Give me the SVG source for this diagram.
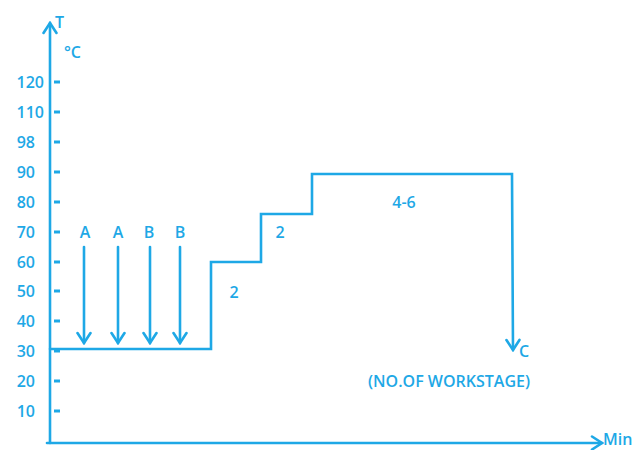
<svg xmlns="http://www.w3.org/2000/svg" width="639" height="450" viewBox="0 0 639 450">
<style>
.ln{fill:none;stroke:#1ea8e6;stroke-width:2.6;stroke-linecap:round;stroke-linejoin:miter}
.tk{stroke:#1ea8e6;stroke-width:3}
.t{font-family:"Open Sans","DejaVu Sans",sans-serif;font-size:16px;font-weight:600;fill:#1ea8e6}
.y{text-anchor:end}
.m{text-anchor:middle}
</style>
<defs>
<marker id="ah" viewBox="0 0 14 16" refX="12" refY="8" markerWidth="14" markerHeight="16" markerUnits="userSpaceOnUse" orient="auto">
<path d="M2,1.5 L12,8 L2,14.5" fill="none" stroke="#1ea8e6" stroke-width="2.6" stroke-linecap="round"/>
</marker>
</defs>
<rect width="639" height="450" fill="#fff"/>
<g id="axes">
<line class="ln" x1="50" y1="443" x2="50" y2="23" marker-end="url(#ah)"/>
<line class="ln" x1="47" y1="443" x2="602" y2="443" marker-end="url(#ah)"/>
<text class="t" x="55" y="28" font-weight="400">T</text>
<text class="t" x="64" y="58" font-size="15" font-weight="400">°C</text>
<text class="t" x="603" y="445" font-size="15.5">Min</text>
</g>
<g id="ticks">
<line class="tk" x1="54" y1="82" x2="60" y2="82"/>
<line class="tk" x1="54" y1="112" x2="60" y2="112"/>
<line class="tk" x1="54" y1="142" x2="60" y2="142"/>
<line class="tk" x1="54" y1="172" x2="60" y2="172"/>
<line class="tk" x1="54" y1="202" x2="60" y2="202"/>
<line class="tk" x1="54" y1="232" x2="60" y2="232"/>
<line class="tk" x1="54" y1="262" x2="60" y2="262"/>
<line class="tk" x1="54" y1="291" x2="60" y2="291"/>
<line class="tk" x1="54" y1="321" x2="60" y2="321"/>
<line class="tk" x1="54" y1="351" x2="60" y2="351"/>
<line class="tk" x1="54" y1="381" x2="60" y2="381"/>
<line class="tk" x1="54" y1="411" x2="60" y2="411"/>
<text class="t y" x="44" y="88">120</text>
<text class="t y" x="44" y="118">110</text>
<text class="t y" x="35" y="148">98</text>
<text class="t y" x="35" y="178">90</text>
<text class="t y" x="35" y="208">80</text>
<text class="t y" x="35" y="238">70</text>
<text class="t y" x="35" y="268">60</text>
<text class="t y" x="35" y="297">50</text>
<text class="t y" x="35" y="327">40</text>
<text class="t y" x="35" y="357">30</text>
<text class="t y" x="35" y="387">20</text>
<text class="t y" x="35" y="417">10</text>
</g>
<g id="profile">
<polyline class="ln" points="50,349 211,349 211,262 261,262 261,214 312,214 312,174 512,174 513,350" marker-end="url(#ah)"/>
<text class="t m" x="234" y="298">2</text>
<text class="t m" x="280" y="238">2</text>
<text class="t m" x="404" y="208">4-6</text>
<text class="t" x="519" y="357">C</text>
<text class="t m" x="449" y="387" font-size="15">(NO.OF WORKSTAGE)</text>
</g>
<g id="arrows">
<line class="ln" x1="84" y1="247" x2="84" y2="343" marker-end="url(#ah)"/>
<line class="ln" x1="118" y1="247" x2="118" y2="343" marker-end="url(#ah)"/>
<line class="ln" x1="150" y1="247" x2="150" y2="343" marker-end="url(#ah)"/>
<line class="ln" x1="180" y1="247" x2="180" y2="343" marker-end="url(#ah)"/>
<text class="t m" x="85" y="238">A</text>
<text class="t m" x="118" y="238">A</text>
<text class="t m" x="149" y="238">B</text>
<text class="t m" x="180" y="238">B</text>
</g>
</svg>
